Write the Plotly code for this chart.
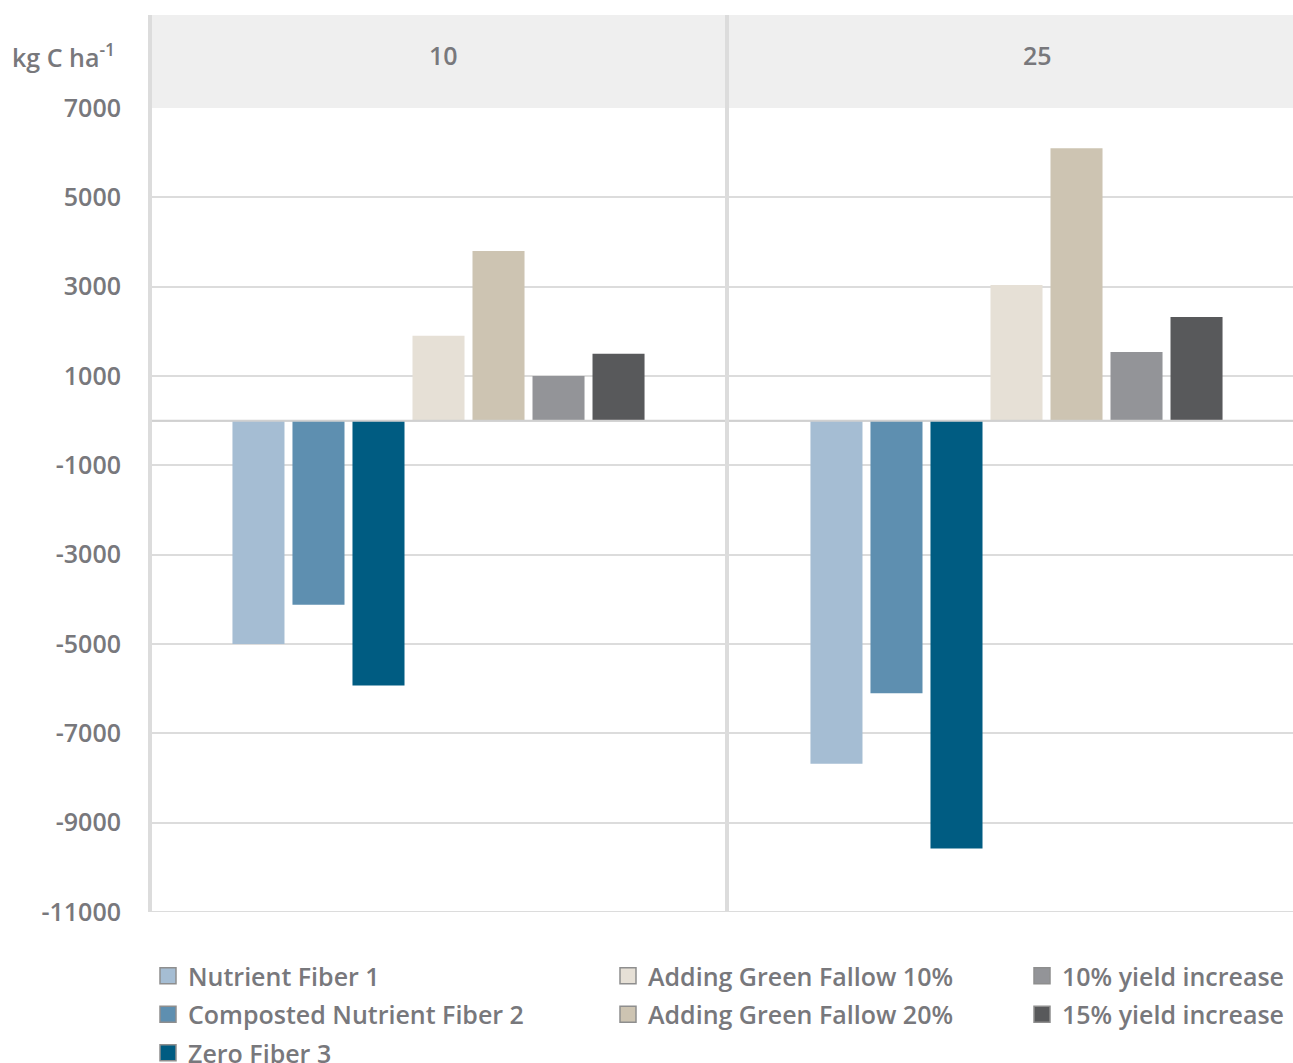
import plotly.graph_objects as go

# Scenario facets and treatment series (kg C per hectare)
facets = ["10", "25"]
series_names = [
    "Nutrient Fiber 1",
    "Composted Nutrient Fiber 2",
    "Zero Fiber 3",
    "Adding Green Fallow 10%",
    "Adding Green Fallow 20%",
    "10% yield increase",
    "15% yield increase",
]
values_10 = [-5000, -4120, -5930, 1900, 3800, 1000, 1500]
values_25 = [-7680, -6100, -9580, 3040, 6100, 1540, 2320]
colors = ["#a5bdd3", "#5e8fb0", "#005c82", "#e6e0d6", "#cdc4b2", "#939498", "#58595b"]
y_ticks = [7000, 5000, 3000, 1000, -1000, -3000, -5000, -7000, -9000, -11000]

# legend layout: which column each series sits in
legend_columns = [1, 1, 1, 2, 2, 3, 3]

TEXT = "#78787c"
GRID = "#dcdcdc"
FONT = "Open Sans"

W, H = 1293, 1063
ML, MR, MT, MB = 150, 0, 15, 151
plot_w = W - ML - MR
plot_h = H - MT - MB
strip_h = 93
y_top = 1 - strip_h / plot_h
split = (727 - ML) / plot_w
p2_start = (729 - ML) / plot_w

fig = go.Figure()

for i, name in enumerate(series_names):
    for facet, vals, xa in [(facets[0], values_10, "x"), (facets[1], values_25, "x2")]:
        fig.add_trace(go.Bar(
            x=[facet], y=[vals[i]], name=name, xaxis=xa, yaxis="y",
            marker=dict(color=colors[i], line=dict(width=0)),
            showlegend=False, offsetgroup=str(i),
        ))

# legend entries (square swatches)
for i, name in enumerate(series_names):
    col = legend_columns[i]
    fig.add_trace(go.Scatter(
        x=[None], y=[None], mode="markers", name=name,
        marker=dict(symbol="square", size=16, color=colors[i],
                    line=dict(color="#8e8e8e", width=1.5)),
        legend="legend" if col == 1 else f"legend{col}",
        legendgroup=name, xaxis="x", yaxis="y",
    ))

w1 = split * plot_w
w2 = (1 - p2_start) * plot_w

axis_common = dict(showgrid=False, zeroline=False, showticklabels=False,
                   showline=False, type="category", fixedrange=True)

legend_common = dict(
    orientation="v", xanchor="left", yanchor="top",
    font=dict(family=FONT, size=25, color=TEXT, weight=600),
    bgcolor="rgba(0,0,0,0)", traceorder="grouped", tracegroupgap=3,
    itemclick=False, itemdoubleclick=False,
)
leg_y = -(953 - (H - MB)) / plot_h

fig.update_layout(
    width=W, height=H,
    margin=dict(l=ML, r=MR, t=MT, b=MB, pad=0, autoexpand=False),
    paper_bgcolor="white", plot_bgcolor="white",
    barmode="group", bargap=0.272, bargroupgap=0.133,
    font=dict(family=FONT, color=TEXT),
    xaxis=dict(domain=[0, split], range=[-0.5, 0.5], **axis_common),
    xaxis2=dict(domain=[p2_start, 1], range=[-0.5 + 1 / w1, -0.5 + (w2 + 1) / w1],
                **axis_common),
    yaxis=dict(domain=[0, y_top], range=[-11000, 7000], tickvals=y_ticks,
               ticktext=[str(v) for v in y_ticks],
               showgrid=True, gridcolor=GRID, gridwidth=2,
               zeroline=True, zerolinecolor=GRID, zerolinewidth=2,
               showline=False, ticks="", ticklabelstandoff=28,
               tickfont=dict(family=FONT, size=25, color=TEXT, weight=600),
               fixedrange=True),
    legend=dict(x=(148 - ML) / plot_w, y=leg_y, **legend_common),
    legend2=dict(x=(608 - ML) / plot_w, y=leg_y, **legend_common),
    legend3=dict(x=(1022 - ML) / plot_w, y=leg_y, **legend_common),
    showlegend=True,
)

# facet strip background
fig.add_shape(type="rect", xref="paper", yref="paper", x0=0, x1=1, y0=y_top, y1=1,
              fillcolor="#efefef", line=dict(width=0), layer="below")
# zero reference over the bars
for xr in ["x", "x2"]:
    fig.add_shape(type="line", xref=f"{xr} domain", yref="y", x0=0, x1=1, y0=0, y1=0,
                  line=dict(color="#d0d0d0", width=2), layer="above")
# bottom edge of the panels
fig.add_shape(type="line", xref="paper", yref="y", x0=0, x1=1, y0=-11000, y1=-11000,
              line=dict(color=GRID, width=2), layer="above")
# left axis line and panel separator
fig.add_shape(type="line", xref="paper", yref="paper", x0=0, x1=0, y0=0, y1=1,
              line=dict(color=GRID, width=4), layer="above")
fig.add_shape(type="line", xref="paper", yref="paper", x0=split, x1=split, y0=0, y1=1,
              line=dict(color=GRID, width=4), layer="above")

# facet labels
strip_mid = 1 - (55 - MT) / plot_h
fig.add_annotation(text=facets[0], xref="paper", yref="paper",
                   x=(443 - ML) / plot_w, y=strip_mid, showarrow=False,
                   xanchor="center", yanchor="middle",
                   font=dict(family=FONT, size=25, color=TEXT, weight=600))
fig.add_annotation(text=facets[1], xref="paper", yref="paper",
                   x=(1037 - ML) / plot_w, y=strip_mid, showarrow=False,
                   xanchor="center", yanchor="middle",
                   font=dict(family=FONT, size=25, color=TEXT, weight=600))

# unit label
fig.add_annotation(text="kg C ha<sup>-1</sup>", xref="paper", yref="paper",
                   x=(10 - ML) / plot_w, y=strip_mid, xanchor="left", yanchor="middle",
                   showarrow=False,
                   font=dict(family=FONT, size=25, color=TEXT, weight=600))

fig.write_html("out.html")
